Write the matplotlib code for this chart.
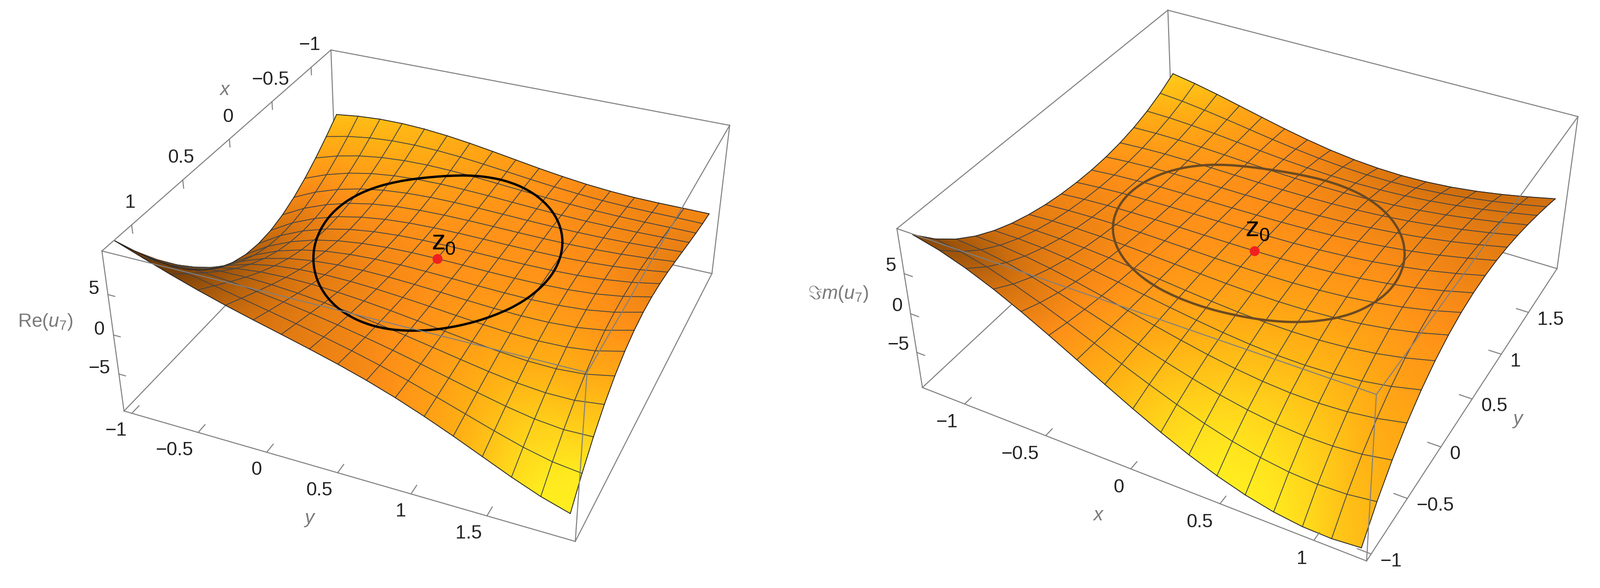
"""
Two saddle surfaces Re(u7) and Im(u7) over the z-plane, with a circle around z0.
Values are read off the picture, drawn through a camera calibrated on the box corners.
"""

import numpy as np
import matplotlib
matplotlib.use("Agg")
import matplotlib.pyplot as plt
from matplotlib.colors import LinearSegmentedColormap
from matplotlib.patches import PathPatch
from matplotlib.path import Path

plt.rcParams["font.family"] = ["Liberation Sans", "DejaVu Sans"]
plt.rcParams["mathtext.fontset"] = "custom"
plt.rcParams["mathtext.rm"] = "Liberation Sans"
plt.rcParams["mathtext.it"] = "Liberation Sans:italic"

COLORS = {
    "box": "#808080",
    "mesh": "#444444",
    "rim": "#222222",
    "tick_text": "#222222",
    "label": "#7a7a7a",
    "dot": "#f02020",
}

# mesh positions
X_MESH = [-1.22, -1.0675, -0.915, -0.7625, -0.61, -0.4575, -0.305, -0.1525, 0.0,
          0.1525, 0.305, 0.4575, 0.61, 0.7625, 0.915, 1.0675, 1.22]
Y_MESH = [-1.0, -0.8125, -0.625, -0.4375, -0.25, -0.0625, 0.125, 0.3125, 0.5,
          0.6875, 0.875, 1.0625, 1.25, 1.4375, 1.625, 1.8125, 2.0]

# surface heights, one row per X_MESH value
Z_RE = [
    [1.90, 2.28, 2.49, 2.51, 2.37, 2.08, 1.68, 1.20, 0.69, 0.18, -0.27, -0.65, -0.92, -1.09, -1.15, -1.16, -1.18],
    [0.25, 0.91, 1.35, 1.59, 1.64, 1.54, 1.31, 0.99, 0.63, 0.26, -0.08, -0.36, -0.57, -0.70, -0.75, -0.77, -0.82],
    [-1.26, -0.32, 0.35, 0.79, 1.02, 1.08, 1.00, 0.82, 0.58, 0.33, 0.08, -0.12, -0.27, -0.35, -0.38, -0.37, -0.38],
    [-2.58, -1.38, -0.49, 0.13, 0.51, 0.70, 0.75, 0.68, 0.55, 0.38, 0.21, 0.07, -0.02, -0.05, -0.02, 0.04, 0.11],
    [-3.66, -2.22, -1.15, -0.38, 0.13, 0.43, 0.57, 0.59, 0.53, 0.43, 0.32, 0.24, 0.20, 0.22, 0.30, 0.45, 0.64],
    [-4.47, -2.83, -1.61, -0.72, -0.11, 0.27, 0.47, 0.55, 0.54, 0.49, 0.42, 0.37, 0.37, 0.44, 0.59, 0.83, 1.16],
    [-4.95, -3.17, -1.84, -0.87, -0.21, 0.22, 0.46, 0.57, 0.59, 0.55, 0.50, 0.47, 0.49, 0.60, 0.81, 1.15, 1.63],
    [-5.07, -3.21, -1.83, -0.83, -0.15, 0.29, 0.54, 0.65, 0.66, 0.62, 0.57, 0.54, 0.57, 0.69, 0.95, 1.37, 2.00],
    [-4.81, -2.93, -1.56, -0.58, 0.07, 0.48, 0.70, 0.79, 0.77, 0.71, 0.62, 0.57, 0.58, 0.70, 0.97, 1.46, 2.21],
    [-4.13, -2.33, -1.03, -0.13, 0.46, 0.80, 0.96, 0.99, 0.92, 0.80, 0.66, 0.55, 0.51, 0.60, 0.86, 1.38, 2.21],
    [-3.04, -1.39, -0.24, 0.53, 1.00, 1.24, 1.31, 1.25, 1.10, 0.90, 0.68, 0.49, 0.37, 0.38, 0.59, 1.08, 1.94],
    [-1.52, -0.13, 0.81, 1.39, 1.69, 1.80, 1.75, 1.58, 1.32, 1.02, 0.69, 0.38, 0.14, 0.03, 0.13, 0.53, 1.35],
    [0.39, 1.44, 2.08, 2.42, 2.52, 2.46, 2.26, 1.96, 1.58, 1.14, 0.68, 0.23, -0.17, -0.45, -0.53, -0.29, 0.39],
    [2.66, 3.28, 3.56, 3.60, 3.46, 3.20, 2.83, 2.39, 1.87, 1.29, 0.67, 0.04, -0.57, -1.07, -1.39, -1.40, -0.97],
    [5.25, 5.34, 5.19, 4.89, 4.48, 4.01, 3.47, 2.87, 2.20, 1.47, 0.67, -0.17, -1.02, -1.81, -2.45, -2.81, -2.74],
    [8.08, 7.56, 6.93, 6.25, 5.55, 4.85, 4.14, 3.39, 2.58, 1.68, 0.70, -0.38, -1.51, -2.64, -3.69, -4.51, -4.94],
    [11.05, 9.85, 8.69, 7.61, 6.62, 5.71, 4.84, 3.95, 3.01, 1.97, 0.79, -0.54, -1.99, -3.53, -5.07, -6.46, -7.54],
]
Z_IM = [
    [9.40, 6.98, 5.04, 3.50, 2.29, 1.34, 0.61, 0.05, -0.35, -0.60, -0.71, -0.67, -0.45, -0.04, 0.58, 1.45, 2.58],
    [8.61, 6.48, 4.75, 3.38, 2.29, 1.43, 0.77, 0.27, -0.09, -0.33, -0.43, -0.41, -0.25, 0.07, 0.55, 1.21, 2.06],
    [7.50, 5.70, 4.24, 3.07, 2.14, 1.40, 0.83, 0.39, 0.08, -0.13, -0.24, -0.24, -0.14, 0.07, 0.40, 0.85, 1.42],
    [6.12, 4.69, 3.53, 2.60, 1.85, 1.26, 0.80, 0.44, 0.18, -0.01, -0.12, -0.15, -0.11, 0.00, 0.18, 0.42, 0.70],
    [4.53, 3.51, 2.68, 2.01, 1.47, 1.04, 0.70, 0.43, 0.22, 0.07, -0.04, -0.10, -0.13, -0.12, -0.09, -0.05, -0.02],
    [2.79, 2.20, 1.72, 1.33, 1.02, 0.76, 0.55, 0.38, 0.24, 0.11, 0.01, -0.08, -0.17, -0.26, -0.36, -0.51, -0.72],
    [0.97, 0.82, 0.70, 0.60, 0.52, 0.45, 0.38, 0.31, 0.23, 0.15, 0.05, -0.07, -0.21, -0.38, -0.61, -0.92, -1.34],
    [-0.87, -0.58, -0.33, -0.13, 0.02, 0.13, 0.21, 0.24, 0.24, 0.19, 0.10, -0.03, -0.22, -0.47, -0.81, -1.26, -1.86],
    [-2.67, -1.94, -1.34, -0.84, -0.45, -0.15, 0.06, 0.20, 0.27, 0.26, 0.18, 0.03, -0.19, -0.51, -0.94, -1.50, -2.24],
    [-4.37, -3.22, -2.26, -1.49, -0.87, -0.39, -0.03, 0.21, 0.34, 0.37, 0.31, 0.15, -0.11, -0.48, -0.97, -1.63, -2.47],
    [-5.92, -4.36, -3.08, -2.03, -1.19, -0.53, -0.05, 0.29, 0.48, 0.55, 0.50, 0.34, 0.05, -0.36, -0.91, -1.63, -2.55],
    [-7.26, -5.33, -3.73, -2.43, -1.39, -0.57, 0.03, 0.46, 0.71, 0.81, 0.77, 0.60, 0.29, -0.15, -0.74, -1.49, -2.45],
    [-8.35, -6.08, -4.20, -2.66, -1.43, -0.48, 0.24, 0.73, 1.04, 1.16, 1.13, 0.95, 0.62, 0.16, -0.45, -1.23, -2.20],
    [-9.15, -6.57, -4.43, -2.69, -1.30, -0.22, 0.59, 1.14, 1.48, 1.62, 1.58, 1.39, 1.05, 0.56, -0.06, -0.84, -1.79],
    [-9.61, -6.76, -4.40, -2.49, -0.96, 0.22, 1.10, 1.70, 2.05, 2.19, 2.14, 1.93, 1.56, 1.06, 0.43, -0.34, -1.25],
    [-9.70, -6.63, -4.09, -2.03, -0.39, 0.87, 1.79, 2.41, 2.77, 2.89, 2.82, 2.57, 2.17, 1.64, 1.00, 0.25, -0.60],
    [-9.39, -6.14, -3.46, -1.29, 0.43, 1.73, 2.68, 3.30, 3.63, 3.72, 3.60, 3.30, 2.86, 2.30, 1.64, 0.92, 0.13],
]

# circle around z0 as it lies on each surface
RING_RE_X = [0.327, 0.075, -0.161, -0.342, -0.474, -0.571, -0.646, -0.708, -0.761, -0.812, -0.861, -0.908,
             -0.945, -0.965, -0.954, -0.901, -0.800, -0.656, -0.483, -0.301, -0.129, 0.025, 0.157, 0.270,
             0.367, 0.452, 0.528, 0.598, 0.663, 0.721, 0.768, 0.797, 0.798, 0.763, 0.679, 0.536]
RING_RE_Y = [-0.230, -0.382, -0.482, -0.510, -0.476, -0.401, -0.303, -0.194, -0.082, 0.029, 0.141, 0.257,
             0.382, 0.518, 0.664, 0.815, 0.961, 1.090, 1.190, 1.252, 1.274, 1.259, 1.217, 1.156,
             1.084, 1.009, 0.931, 0.851, 0.766, 0.675, 0.576, 0.468, 0.349, 0.221, 0.082, -0.069]
RING_RE_Z = [1.13, -0.17, -1.04, -1.18, -0.85, -0.36, 0.10, 0.45, 0.70, 0.83, 0.89, 0.87,
             0.76, 0.57, 0.35, 0.17, 0.11, 0.18, 0.34, 0.50, 0.58, 0.57, 0.51, 0.45,
             0.43, 0.47, 0.57, 0.74, 0.98, 1.29, 1.65, 2.04, 2.39, 2.62, 2.58, 2.13]
RING_IM_X = [-0.763, -0.842, -0.879, -0.869, -0.819, -0.740, -0.646, -0.546, -0.446, -0.346, -0.245, -0.139,
             -0.021, 0.109, 0.253, 0.402, 0.545, 0.665, 0.750, 0.793, 0.795, 0.759, 0.696, 0.613,
             0.521, 0.427, 0.333, 0.242, 0.149, 0.054, -0.049, -0.160, -0.279, -0.404, -0.531, -0.654]
RING_IM_Y = [0.277, 0.480, 0.688, 0.878, 1.039, 1.167, 1.264, 1.335, 1.388, 1.432, 1.471, 1.506,
             1.529, 1.523, 1.470, 1.358, 1.193, 0.997, 0.793, 0.603, 0.439, 0.305, 0.199, 0.116,
             0.053, 0.004, -0.035, -0.066, -0.093, -0.117, -0.136, -0.146, -0.139, -0.102, -0.024, 0.103]
RING_IM_Z = [0.50, 0.16, -0.10, -0.20, -0.18, -0.13, -0.12, -0.16, -0.24, -0.35, -0.46, -0.60,
             -0.70, -0.70, -0.49, -0.04, 0.58, 1.18, 1.58, 1.69, 1.50, 1.12, 0.65, 0.22,
             -0.12, -0.35, -0.46, -0.49, -0.45, -0.34, -0.15, 0.11, 0.41, 0.69, 0.84, 0.78]

X_TICKS = [-1, -0.5, 0, 0.5, 1]
X_TICK_LABELS = ["\u22121", "\u22120.5", "0", "0.5", "1"]
Y_TICKS = [-1, -0.5, 0, 0.5, 1, 1.5]
Y_TICK_LABELS = ["\u22121", "\u22120.5", "0", "0.5", "1", "1.5"]
Z_TICKS = [-5, 0, 5]
Z_TICK_LABELS = ["\u22125", "0", "5"]

BOX_X = (-1.27, 1.27)
BOX_Y = (-1.06, 2.06)
BOX_Z_RE = (-9.9, 10.2)
BOX_Z_IM = (-9.7, 10.4)

# box corner (x end, y end, z end) and where it sits in the image
ANCHORS_RE = [((1, 0, 1), (208, 512)), ((1, 0, 0), (253, 839)), ((0, 0, 1), (675, 102)), ((1, 1, 1), (1197, 760)),
              ((1, 1, 0), (1174, 1105)), ((0, 1, 1), (1489, 256)), ((0, 1, 0), (1452, 558))]
ANCHORS_IM = [((0, 0, 1), (1830, 465)), ((0, 0, 0), (1882, 792)), ((0, 1, 1), (2382, 21)), ((1, 0, 1), (2807, 805)),
              ((1, 0, 0), (2788, 1145)), ((1, 1, 1), (3220, 239)), ((1, 1, 0), (3176, 547))]

SURFACE_CMAP = LinearSegmentedColormap.from_list(
    "surface", [(0, "#6e3a08"), (0.3, "#d87410"), (0.5, "#ff9018"), (0.7, "#ffb014"), (1, "#ffee20")])

BOX_LW = 1.5
TICK_FS = 28


def calibrate(anchors, box_z):
    rows, rhs = [], []
    for (i, j, k), (u, v) in anchors:
        pt = [BOX_X[i], BOX_Y[j], box_z[k], 1.0]
        rows.append(pt + [0, 0, 0, 0] + [-u * c for c in pt[:3]])
        rhs.append(float(u))
        rows.append([0, 0, 0, 0] + pt + [-v * c for c in pt[:3]])
        rhs.append(float(v))
    params = np.linalg.lstsq(np.array(rows), np.array(rhs), rcond=None)[0]
    return np.append(params, 1.0).reshape(3, 4)


def project(cam, x, y, z):
    x, y, z = np.asarray(x, float), np.asarray(y, float), np.asarray(z, float)
    w = cam[2, 0] * x + cam[2, 1] * y + cam[2, 2] * z + cam[2, 3]
    u = (cam[0, 0] * x + cam[0, 1] * y + cam[0, 2] * z + cam[0, 3]) / w
    v = (cam[1, 0] * x + cam[1, 1] * y + cam[1, 2] * z + cam[1, 3]) / w
    return u, v


def surface_shade(x, y, z, cam, box_z, dark_left, dark_right):
    # slope facing the bottom of the picture is yellow, sideways slopes go brown
    gx = np.gradient(z, x, axis=0) * (BOX_X[1] - BOX_X[0]) / (box_z[1] - box_z[0]) * 0.4
    gy = np.gradient(z, y, axis=1) * (BOX_Y[1] - BOX_Y[0]) / (box_z[1] - box_z[0]) * 0.4
    u0, v0 = project(cam, 0, 0.5, 0)
    ux, vx = project(cam, 1, 0.5, 0)
    uy, vy = project(cam, 0, 1.5, 0)
    ex = np.array([ux - u0, vx - v0])
    ex = ex / np.hypot(*ex)
    ey = np.array([uy - u0, vy - v0])
    ey = ey / np.hypot(*ey)
    side = -gx * ex[0] - gy * ey[0]
    down = -gx * ex[1] - gy * ey[1]
    norm = np.sqrt(1 + gx ** 2 + gy ** 2)
    return (0.03 + down - dark_left * np.clip(side, 0, None) ** 2 - dark_right * np.clip(side, None, 0) ** 2) / norm


def closed_curve(u, v):
    # smooth closed path through the projected ring points
    pts = np.column_stack([u, v])
    verts = [pts[0]]
    for i in range(len(pts)):
        p0, p1, p2, p3 = pts[i - 1], pts[i], pts[(i + 1) % len(pts)], pts[(i + 2) % len(pts)]
        verts += [p1 + (p2 - p0) / 6, p2 - (p3 - p1) / 6, p2]
    codes = [Path.MOVETO] + [Path.CURVE4] * (3 * len(pts))
    return Path(verts, codes)


def draw_ticks(ax, cam, axis, values, labels, base, step, offset, ha):
    for val, lab in zip(values, labels):
        start = np.array(base, float)
        start[axis] = val
        end = start + np.array(step, float)
        u, v = project(cam, [start[0], end[0]], [start[1], end[1]], [start[2], end[2]])
        ax.plot(u, v, color=COLORS["box"], lw=BOX_LW, zorder=7)
        ax.text(u[0] + offset[0], v[0] + offset[1], lab, fontsize=TICK_FS, color=COLORS["tick_text"],
                ha=ha, va="center")


def draw_panel(ax, cam, z_table, box_z, ring, ring_color, corners, dark_left, dark_right):
    x = np.array(X_MESH)
    y = np.array(Y_MESH)
    z = np.array(z_table)
    X, Y = np.meshgrid(x, y, indexing="ij")
    U, V = project(cam, X, Y, z)

    def box_edge(a, b):
        return project(cam, [BOX_X[a[0]], BOX_X[b[0]]], [BOX_Y[a[1]], BOX_Y[b[1]]], [box_z[a[2]], box_z[b[2]]])

    # edges behind the surface
    for a, b in [("back_top", "hidden"), ("front_left", "hidden"), ("right_low", "hidden")]:
        ax.plot(*box_edge(corners[a], corners[b]), color=COLORS["box"], lw=BOX_LW, zorder=1)

    shade = surface_shade(x, y, z, cam, box_z, dark_left, dark_right)
    ax.pcolormesh(U, V, shade, shading="gouraud", cmap=SURFACE_CMAP, vmin=-0.5, vmax=0.5, zorder=2)

    for i in range(1, 16):
        ax.plot(U[i], V[i], color=COLORS["mesh"], lw=1.2, zorder=3)
        ax.plot(U[:, i], V[:, i], color=COLORS["mesh"], lw=1.2, zorder=3)
    for line_u, line_v in [(U[0], V[0]), (U[16], V[16]), (U[:, 0], V[:, 0]), (U[:, 16], V[:, 16])]:
        ax.plot(line_u, line_v, color=COLORS["rim"], lw=1.2, zorder=3)

    ru, rv = project(cam, ring[0], ring[1], ring[2])
    ax.add_patch(PathPatch(closed_curve(ru, rv), fill=False, edgecolor=ring_color, lw=3.4, zorder=4))

    ax.plot(U[8, 8], V[8, 8], "o", color=COLORS["dot"], ms=14.5, mew=0, zorder=5)

    # edges in front of the surface
    for a, b in [("top_left", "front_left"), ("top_left", "back_top"), ("back_top", "right_top"),
                 ("right_top", "right_low"), ("front_left", "front_low"), ("front_low", "right_low"),
                 ("top_left", "front_top"), ("front_top", "right_top"), ("front_top", "front_low")]:
        ax.plot(*box_edge(corners[a], corners[b]), color=COLORS["box"], lw=BOX_LW, zorder=7)

    return U[8, 8], V[8, 8]


fig = plt.figure(figsize=(32.64, 12), dpi=100)
fig.patch.set_facecolor("white")

# Re(u7)
ax1 = fig.add_axes([0, 0, 0.5, 1])
ax1.set_xlim(0, 1632)
ax1.set_ylim(1200, 0)
ax1.axis("off")
cam1 = calibrate(ANCHORS_RE, BOX_Z_RE)
corners1 = {"top_left": (1, 0, 1), "front_left": (1, 0, 0), "back_top": (0, 0, 1), "front_top": (1, 1, 1),
            "front_low": (1, 1, 0), "right_top": (0, 1, 1), "right_low": (0, 1, 0), "hidden": (0, 0, 0)}
du, dv = draw_panel(ax1, cam1, Z_RE, BOX_Z_RE, (RING_RE_X, RING_RE_Y, RING_RE_Z), "#000000", corners1, 0.45, 0.55)
draw_ticks(ax1, cam1, 1, Y_TICKS, Y_TICK_LABELS, (BOX_X[1], 0, BOX_Z_RE[0]), (-0.07, 0, 0), (-10, 36), "right")
draw_ticks(ax1, cam1, 0, X_TICKS, X_TICK_LABELS, (0, BOX_Y[0], BOX_Z_RE[1]), (0, 0, -1.0), (-3, -45), "center")
draw_ticks(ax1, cam1, 2, Z_TICKS, Z_TICK_LABELS, (BOX_X[1], BOX_Y[0], 0), (0, 0.05, 0), (-18, -11), "right")
ax1.text(459, 184, r"$x$", fontsize=TICK_FS, color=COLORS["label"], ha="center", va="center")
ax1.text(632, 1060, r"$y$", fontsize=TICK_FS, color=COLORS["label"], ha="center", va="center")
ax1.text(92, 657, r"$\mathregular{Re}(u_7)$", fontsize=TICK_FS, color=COLORS["label"], ha="center", va="center")
ax1.text(du + 3, dv - 19, "z", fontsize=41, color="black", ha="center", va="baseline", zorder=6)
ax1.text(du + 27, dv - 8, "0", fontsize=28, color="black", ha="center", va="baseline", zorder=6)

# Im(u7)
ax2 = fig.add_axes([0.5, 0, 0.5, 1])
ax2.set_xlim(1632, 3264)
ax2.set_ylim(1200, 0)
ax2.axis("off")
cam2 = calibrate(ANCHORS_IM, BOX_Z_IM)
corners2 = {"top_left": (0, 0, 1), "front_left": (0, 0, 0), "back_top": (0, 1, 1), "front_top": (1, 0, 1),
            "front_low": (1, 0, 0), "right_top": (1, 1, 1), "right_low": (1, 1, 0), "hidden": (0, 1, 0)}
du, dv = draw_panel(ax2, cam2, Z_IM, BOX_Z_IM, (RING_IM_X, RING_IM_Y, RING_IM_Z), "#6b4a22", corners2, 0.15, 0.6)
draw_ticks(ax2, cam2, 0, X_TICKS, X_TICK_LABELS, (0, BOX_Y[0], BOX_Z_IM[0]), (0, 0.07, 0), (-14, 38), "right")
draw_ticks(ax2, cam2, 1, Y_TICKS, Y_TICK_LABELS, (BOX_X[1], 0, BOX_Z_IM[0]), (-0.07, 0, 0), (18, 15), "left")
draw_ticks(ax2, cam2, 2, Z_TICKS, Z_TICK_LABELS, (BOX_X[0], BOX_Y[0], 0), (0.05, 0, 0), (-16, -15), "right")
ax2.text(2241, 1052, r"$x$", fontsize=TICK_FS, color=COLORS["label"], ha="center", va="center")
ax2.text(3097, 858, r"$y$", fontsize=TICK_FS, color=COLORS["label"], ha="center", va="center")
ax2.text(1710, 600, r"$\Im m(u_7)$", fontsize=TICK_FS, color=COLORS["label"], ha="center", va="center")
ax2.text(du - 4, dv - 30, "z", fontsize=41, color="black", ha="center", va="baseline", zorder=6)
ax2.text(du + 20, dv - 20, "0", fontsize=28, color="black", ha="center", va="baseline", zorder=6)

fig.savefig("out.png", dpi=100, facecolor="white")
plt.close(fig)
